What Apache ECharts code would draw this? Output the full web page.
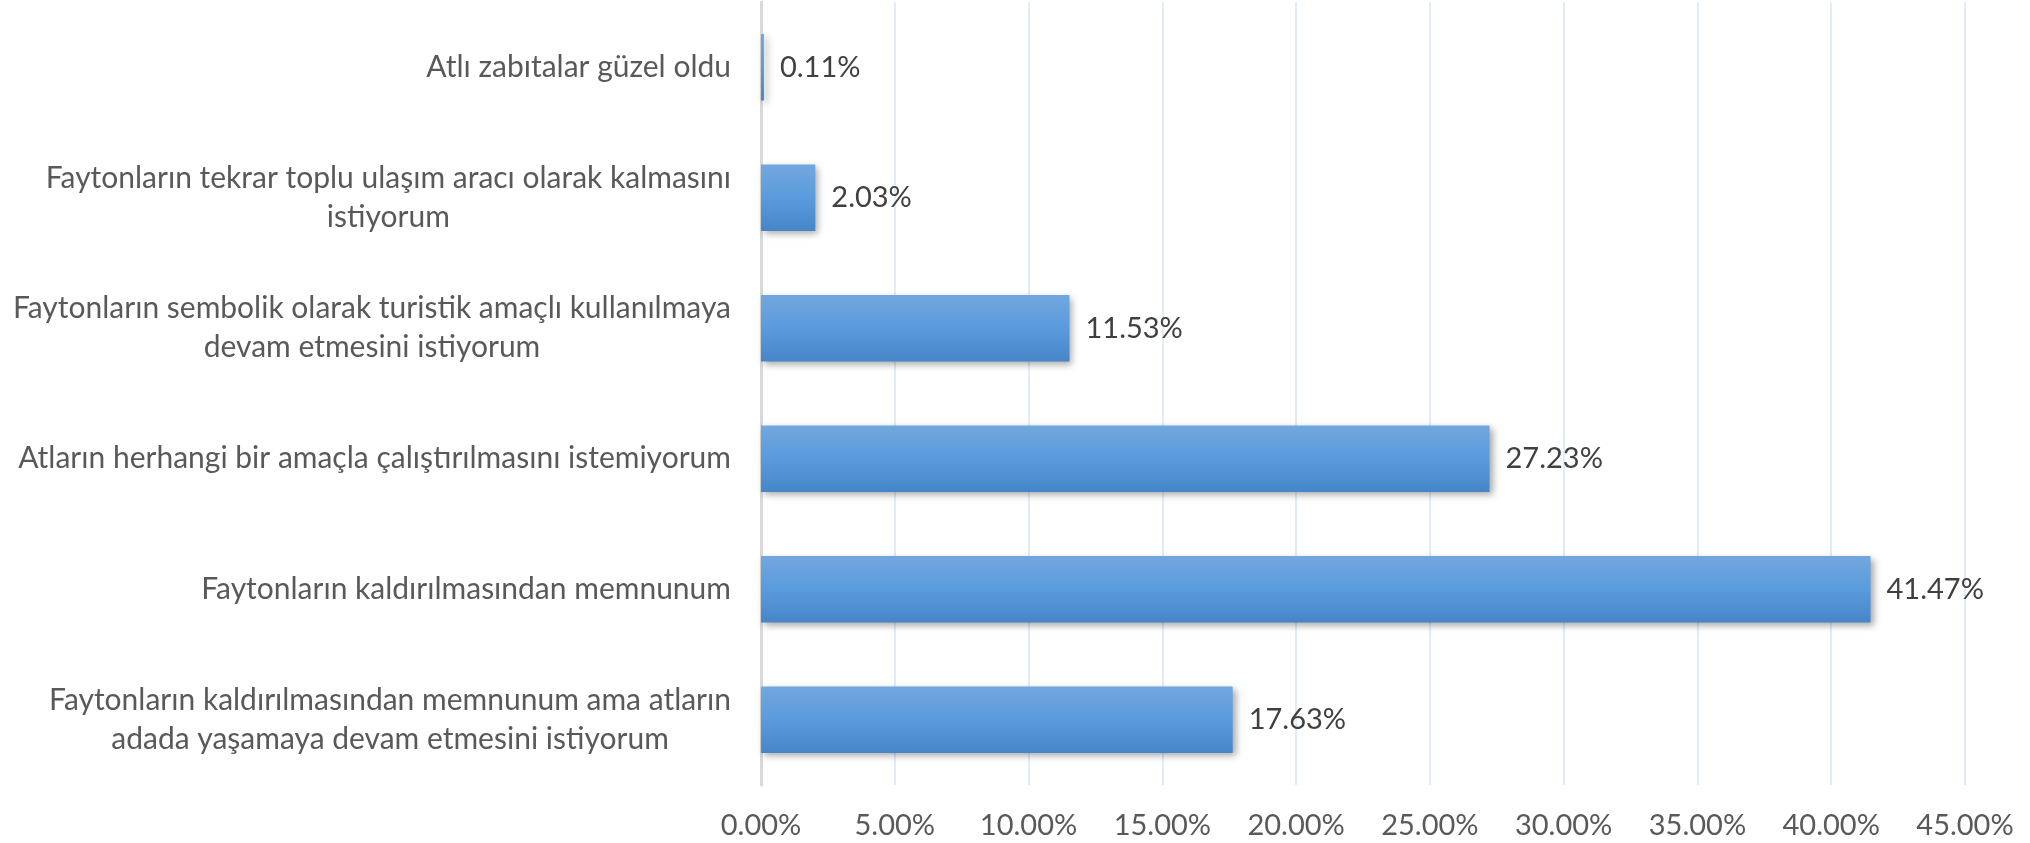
<!DOCTYPE html>
<html>
<head>
<meta charset="utf-8">
<script src="https://cdn.jsdelivr.net/npm/echarts@6/dist/echarts.min.js"></script>
<style>
html,body{margin:0;padding:0;background:#fff;}
#chart{width:2030px;height:843px;}
</style>
</head>
<body>
<div id="chart"></div>
<script>
const categories = [
  'Atlı zabıtalar güzel oldu',
  'Faytonların tekrar toplu ulaşım aracı olarak kalmasını\nistiyorum',
  'Faytonların sembolik olarak turistik amaçlı kullanılmaya\ndevam etmesini istiyorum',
  'Atların herhangi bir amaçla çalıştırılmasını istemiyorum',
  'Faytonların kaldırılmasından memnunum',
  'Faytonların kaldırılmasından memnunum ama atların\nadada yaşamaya devam etmesini istiyorum'
];
const values = [0.11, 2.03, 11.53, 27.23, 41.47, 17.63];
const axisMin = 0;
const axisMax = 45;
const axisStep = 5;

const FONT = 'Lato, "Open Sans", "Noto Sans", sans-serif';
const chart = echarts.init(document.getElementById('chart'), null, {renderer: 'canvas'});
chart.setOption({
  backgroundColor: '#ffffff',
  animation: false,
  grid: {left: 761, right: 65, top: 2, bottom: 58, containLabel: false},
  xAxis: {
    type: 'value',
    min: axisMin, max: axisMax, interval: axisStep,
    axisLine: {show: false},
    axisTick: {show: false},
    splitLine: {show: true, lineStyle: {color: '#e3ebf5', width: 2}},
    axisLabel: {
      margin: 26,
      color: '#595959',
      fontSize: 29,
      fontFamily: FONT,
      formatter: v => v.toFixed(2) + '%'
    }
  },
  yAxis: {
    type: 'category',
    inverse: true,
    data: categories,
    axisLine: {show: true, lineStyle: {color: '#d9d9d9', width: 3}},
    axisTick: {show: false},
    axisLabel: {
      margin: 30,
      color: '#595959',
      fontSize: 30,
      fontFamily: FONT,
      lineHeight: 39,
      formatter: v => v.split('\n').map(l => '{c|' + l + '}').join('\n'),
      rich: {
        c: {align: 'center', color: '#595959', fontSize: 30, fontFamily: FONT, lineHeight: 39}
      }
    }
  },
  series: [{
    type: 'bar',
    data: values,
    barWidth: '51%',
    itemStyle: {
      color: new echarts.graphic.LinearGradient(0, 0, 0, 1, [
        {offset: 0, color: '#72a7de'},
        {offset: 0.5, color: '#5a9bdd'},
        {offset: 1, color: '#4686c8'}
      ]),
      shadowColor: 'rgba(0,0,0,0.35)',
      shadowBlur: 7,
      shadowOffsetX: 3,
      shadowOffsetY: 3
    },
    label: {
      show: true,
      position: 'right',
      distance: 16,
      color: '#404040',
      fontSize: 29,
      fontFamily: FONT,
      formatter: p => p.value.toFixed(2) + '%'
    }
  }]
});
</script>
</body>
</html>
